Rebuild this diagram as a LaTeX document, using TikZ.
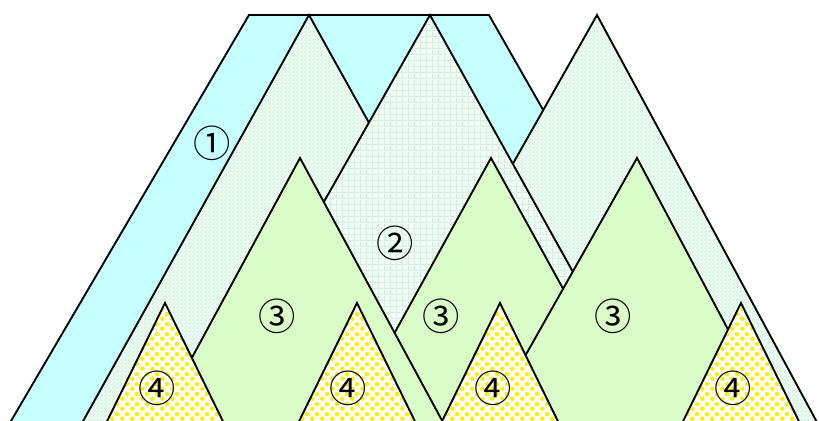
\documentclass[tikz,border=0pt]{standalone}
\usepackage{fontspec}
\newfontfamily\cjk{Noto Sans CJK JP}
\usetikzlibrary{patterns}
\definecolor{BandCyan}{HTML}{C6FFFF}
\definecolor{PaleMint}{HTML}{EEFBF3}
\definecolor{MintCheck}{HTML}{D6F2E1}
\definecolor{PaleGrid}{HTML}{F2FDF8}
\definecolor{MintLine}{HTML}{D2EDDC}
\definecolor{SoftLeaf}{HTML}{D9FCC9}
\definecolor{DotYellow}{HTML}{FFF000}

\pgfdeclarepatternformonly{finecheck}{\pgfqpoint{0pt}{0pt}}{\pgfqpoint{3pt}{3pt}}{\pgfqpoint{3pt}{3pt}}{%
  \pgfpathrectangle{\pgfqpoint{0pt}{0pt}}{\pgfqpoint{1.5pt}{1.5pt}}%
  \pgfpathrectangle{\pgfqpoint{1.5pt}{1.5pt}}{\pgfqpoint{1.5pt}{1.5pt}}%
  \pgfusepath{fill}}
\pgfdeclarepatternformonly{finegrid}{\pgfqpoint{0pt}{0pt}}{\pgfqpoint{4.5pt}{4.5pt}}{\pgfqpoint{4.5pt}{4.5pt}}{%
  \pgfsetlinewidth{0.7pt}%
  \pgfpathmoveto{\pgfqpoint{0pt}{0.35pt}}\pgfpathlineto{\pgfqpoint{4.5pt}{0.35pt}}%
  \pgfpathmoveto{\pgfqpoint{0.35pt}{0pt}}\pgfpathlineto{\pgfqpoint{0.35pt}{4.5pt}}%
  \pgfusepath{stroke}}
\pgfdeclarepatternformonly{yellowdots}{\pgfqpoint{0pt}{0pt}}{\pgfqpoint{7.5pt}{7.5pt}}{\pgfqpoint{7.5pt}{7.5pt}}{%
  \pgfpathcircle{\pgfqpoint{1.875pt}{1.875pt}}{1.85pt}%
  \pgfpathcircle{\pgfqpoint{5.625pt}{5.625pt}}{1.85pt}%
  \pgfusepath{fill}}

\begin{document}
\begin{tikzpicture}[x=0.75pt,y=-0.75pt,
  outline/.style={draw=black,line width=1.4pt,line join=miter},
  band/.style={outline,fill=BandCyan},
  ridge/.style={outline,preaction={fill=PaleMint},pattern=finecheck,pattern color=MintCheck},
  gridridge/.style={outline,preaction={fill=PaleGrid},pattern=finegrid,pattern color=MintLine},
  hill/.style={outline,fill=SoftLeaf},
  peak/.style={outline,preaction={fill=white},pattern=yellowdots,pattern color=DotYellow},
  tag/.style={font=\cjk\fontsize{28}{28}\selectfont,inner sep=0pt}
]
\useasboundingbox (0,0) rectangle (819,421);
\clip (0,0) rectangle (819,421);

\draw[band] (249,15) -- (489,15) -- (737,450) -- (-6,450) -- cycle;
\draw[ridge] (309,15) -- (551,450) -- (67,450) -- cycle;
\draw[ridge] (597,15) -- (832,450) -- (351,450) -- cycle;
\draw[gridridge] (430,15) -- (672,450) -- (183,450) -- cycle;

\draw[hill] (491,158) -- (652,450) -- (330,450) -- cycle;
\draw[hill] (300,158) -- (458,450) -- (142,450) -- cycle;
\draw[hill] (637,158) -- (792,450) -- (472,450) -- cycle;

\foreach \px in {165,357,500,741}
  \draw[peak] (\px,303) -- (\px+72,450) -- (\px-72,450) -- cycle;

\node[tag] (one) at (212,143) {①};
\node[tag] (two) at (395,243) {②};
\node[tag] (threeL) at (277,316) {③};
\node[tag] (threeM) at (441,316) {③};
\node[tag] (threeR) at (613,316) {③};
\node[tag] (fourA) at (157,388) {④};
\node[tag] (fourB) at (348,388) {④};
\node[tag] (fourC) at (493,388) {④};
\node[tag] (fourD) at (733,388) {④};
\end{tikzpicture}
\end{document}
